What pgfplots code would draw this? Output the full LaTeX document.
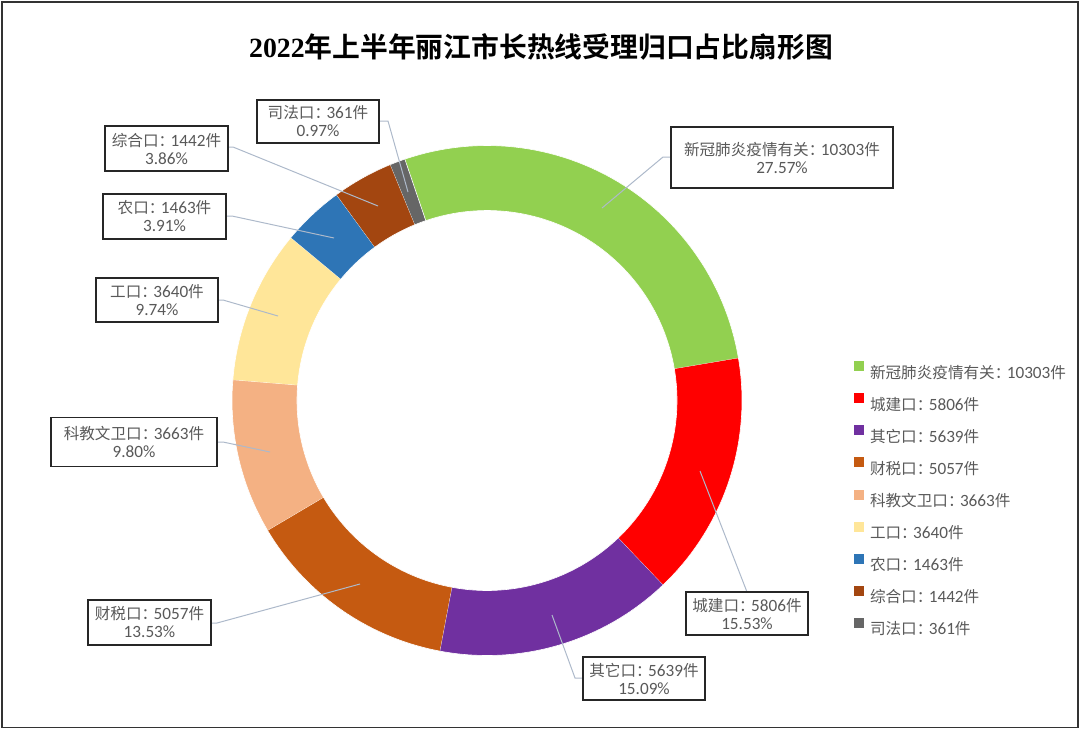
\documentclass[border=0pt]{standalone}
\usepackage{pgfplots}
\pgfplotsset{compat=1.18}
\usepackage{fontspec}
\setmainfont{Carlito}
\newfontfamily\cjk{Noto Sans CJK SC}
\newfontfamily\titlecjk{Noto Sans CJK SC Bold}
\newfontfamily\titlelat{Liberation Serif}

\definecolor{cGreen}{HTML}{92D050}
\definecolor{cRed}{HTML}{FF0000}
\definecolor{cPurple}{HTML}{7030A0}
\definecolor{cRust}{HTML}{C55A11}
\definecolor{cPeach}{HTML}{F4B183}
\definecolor{cYellow}{HTML}{FFE699}
\definecolor{cBlue}{HTML}{2E75B6}
\definecolor{cBrown}{HTML}{A34610}
\definecolor{cGray}{HTML}{666666}
\definecolor{txt}{HTML}{595959}
\definecolor{leader}{HTML}{ADB9CA}

% CJK runs are set a bit smaller than the Latin digits, colon narrowed
\newcommand\ct[1]{{\cjk\fontsize{7.8}{9}\selectfont #1}}
\newcommand\col{{\cjk\fontsize{7.8}{9}\selectfont ：}\kern-1.8pt}
\newcommand\lfont{\fontsize{8.6}{9}\selectfont}

% ring in pixel units: centre, start angle of the first slice (clockwise)
\def\cx{487}\def\cy{400.5}
\def\aS{108.8}
% total in tens, pgfmath stops at 16383
\pgfmathsetmacro\total{10303/10+5806/10+5639/10+5057/10+3663/10+3640/10+1463/10+1442/10+361/10}

% one ring slice: value, colour, legend text
\newcommand\slice[3]{%
  \pgfmathsetmacro\aE{\aS-#1/10/\total*360}%
  \edef\doslice{\noexpand\addplot[fill=#2, draw=white, line width=0.3pt,
      domain=0:3, samples=181]
    ({\cx+ringr(x)*cos(ringa(x,\aS,\aE))}, {\cy-ringr(x)*sin(ringa(x,\aS,\aE))});}%
  \doslice
  \addlegendentry{#3}
  \global\let\aS\aE
}

% data label box: centre x, centre y, width, height (px), text
\newcommand\lbl[5]{%
  \node[draw=black!85, line width=0.75pt, fill=white, inner sep=0pt,
    minimum width=#3*0.5pt, minimum height=#4*0.5pt, align=center,
    font=\lfont, text=txt] at (axis cs:#1,#2) {#5};
}

\begin{document}
\begin{tikzpicture}
\begin{axis}[
  width=540pt, height=364.5pt, scale only axis,
  xmin=0, xmax=1080, ymin=0, ymax=729, y dir=reverse,
  hide axis, clip=false,
  declare function={
    ringa(\ringt,\ringp,\ringq)=(\ringt<=1)?(\ringp+(\ringq-\ringp)*\ringt):((\ringt<=2)?\ringq:(\ringq+(\ringp-\ringq)*(\ringt-2)));
    ringr(\ringt)=(\ringt<=1)?255:((\ringt<=2)?(255-65*(\ringt-1)):190);
  },
  legend cell align=left,
  legend style={at={(0.79074,0.51166)}, anchor=north west, draw=none, fill=none,
    inner sep=0pt, outer sep=0pt, row sep=0pt,
    font=\lfont, text=txt,
    nodes={inner sep=0pt, text height=11pt, text depth=5.06pt},
    /tikz/every odd column/.append style={column sep=3pt}},
  legend image code/.code={\fill[#1, draw=none] (0pt,0.5pt) rectangle (5pt,5.5pt);},
]
\path (axis cs:0,0) rectangle (axis cs:1080,729);

\slice{10303}{cGreen}{\ct{新冠肺炎疫情有关}\col 10303\ct{件}}
\slice{5806}{cRed}{\ct{城建口}\col 5806\ct{件}}
\slice{5639}{cPurple}{\ct{其它口}\col 5639\ct{件}}
\slice{5057}{cRust}{\ct{财税口}\col 5057\ct{件}}
\slice{3663}{cPeach}{\ct{科教文卫口}\col 3663\ct{件}}
\slice{3640}{cYellow}{\ct{工口}\col 3640\ct{件}}
\slice{1463}{cBlue}{\ct{农口}\col 1463\ct{件}}
\slice{1442}{cBrown}{\ct{综合口}\col 1442\ct{件}}
\slice{361}{cGray}{\ct{司法口}\col 361\ct{件}}

% leader lines
\draw[leader, line width=0.5pt] (axis cs:380,121) -- (axis cs:388,121) -- (axis cs:408,192);
\draw[leader, line width=0.5pt] (axis cs:228,147) -- (axis cs:233,147) -- (axis cs:378,206);
\draw[leader, line width=0.5pt] (axis cs:227,216) -- (axis cs:232,216) -- (axis cs:334,238);
\draw[leader, line width=0.5pt] (axis cs:218,300) -- (axis cs:223,300) -- (axis cs:278,316);
\draw[leader, line width=0.5pt] (axis cs:218,442) -- (axis cs:223,442) -- (axis cs:270,452);
\draw[leader, line width=0.5pt] (axis cs:212,623) -- (axis cs:217,623) -- (axis cs:360,584);
\draw[leader, line width=0.5pt] (axis cs:671,157) -- (axis cs:663,157) -- (axis cs:602,208);
\draw[leader, line width=0.5pt] (axis cs:747,592) -- (axis cs:700,471);
\draw[leader, line width=0.5pt] (axis cs:583,678) -- (axis cs:575,678) -- (axis cs:552,615);

% data labels
\lbl{318}{121.5}{122}{43}{\ct{司法口}\col 361\ct{件}\\0.97\%}
\lbl{166.5}{148.5}{123}{45}{\ct{综合口}\col 1442\ct{件}\\3.86\%}
\lbl{164.5}{216.5}{123}{45}{\ct{农口}\col 1463\ct{件}\\3.91\%}
\lbl{157}{300}{122}{44}{\ct{工口}\col 3640\ct{件}\\9.74\%}
\lbl{134}{442}{166}{49}{\ct{科教文卫口}\col 3663\ct{件}\\9.80\%}
\lbl{149.5}{622.5}{123}{45}{\ct{财税口}\col 5057\ct{件}\\13.53\%}
\lbl{782}{157.5}{222}{61}{\ct{新冠肺炎疫情有关}\col 10303\ct{件}\\27.57\%}
\lbl{747}{613.5}{122}{43}{\ct{城建口}\col 5806\ct{件}\\15.53\%}
\lbl{644}{678.5}{122}{43}{\ct{其它口}\col 5639\ct{件}\\15.09\%}

% title and frame
\node[font=\fontsize{13.9}{16}\selectfont] at (axis cs:541,47)
  {{\titlelat\bfseries 2022}\titlecjk 年上半年丽江市长热线受理归口占比扇形图};
\draw[line width=0.75pt, black!80] (axis cs:2,2) rectangle (axis cs:1078,727.5);
\end{axis}
\end{tikzpicture}
\end{document}
